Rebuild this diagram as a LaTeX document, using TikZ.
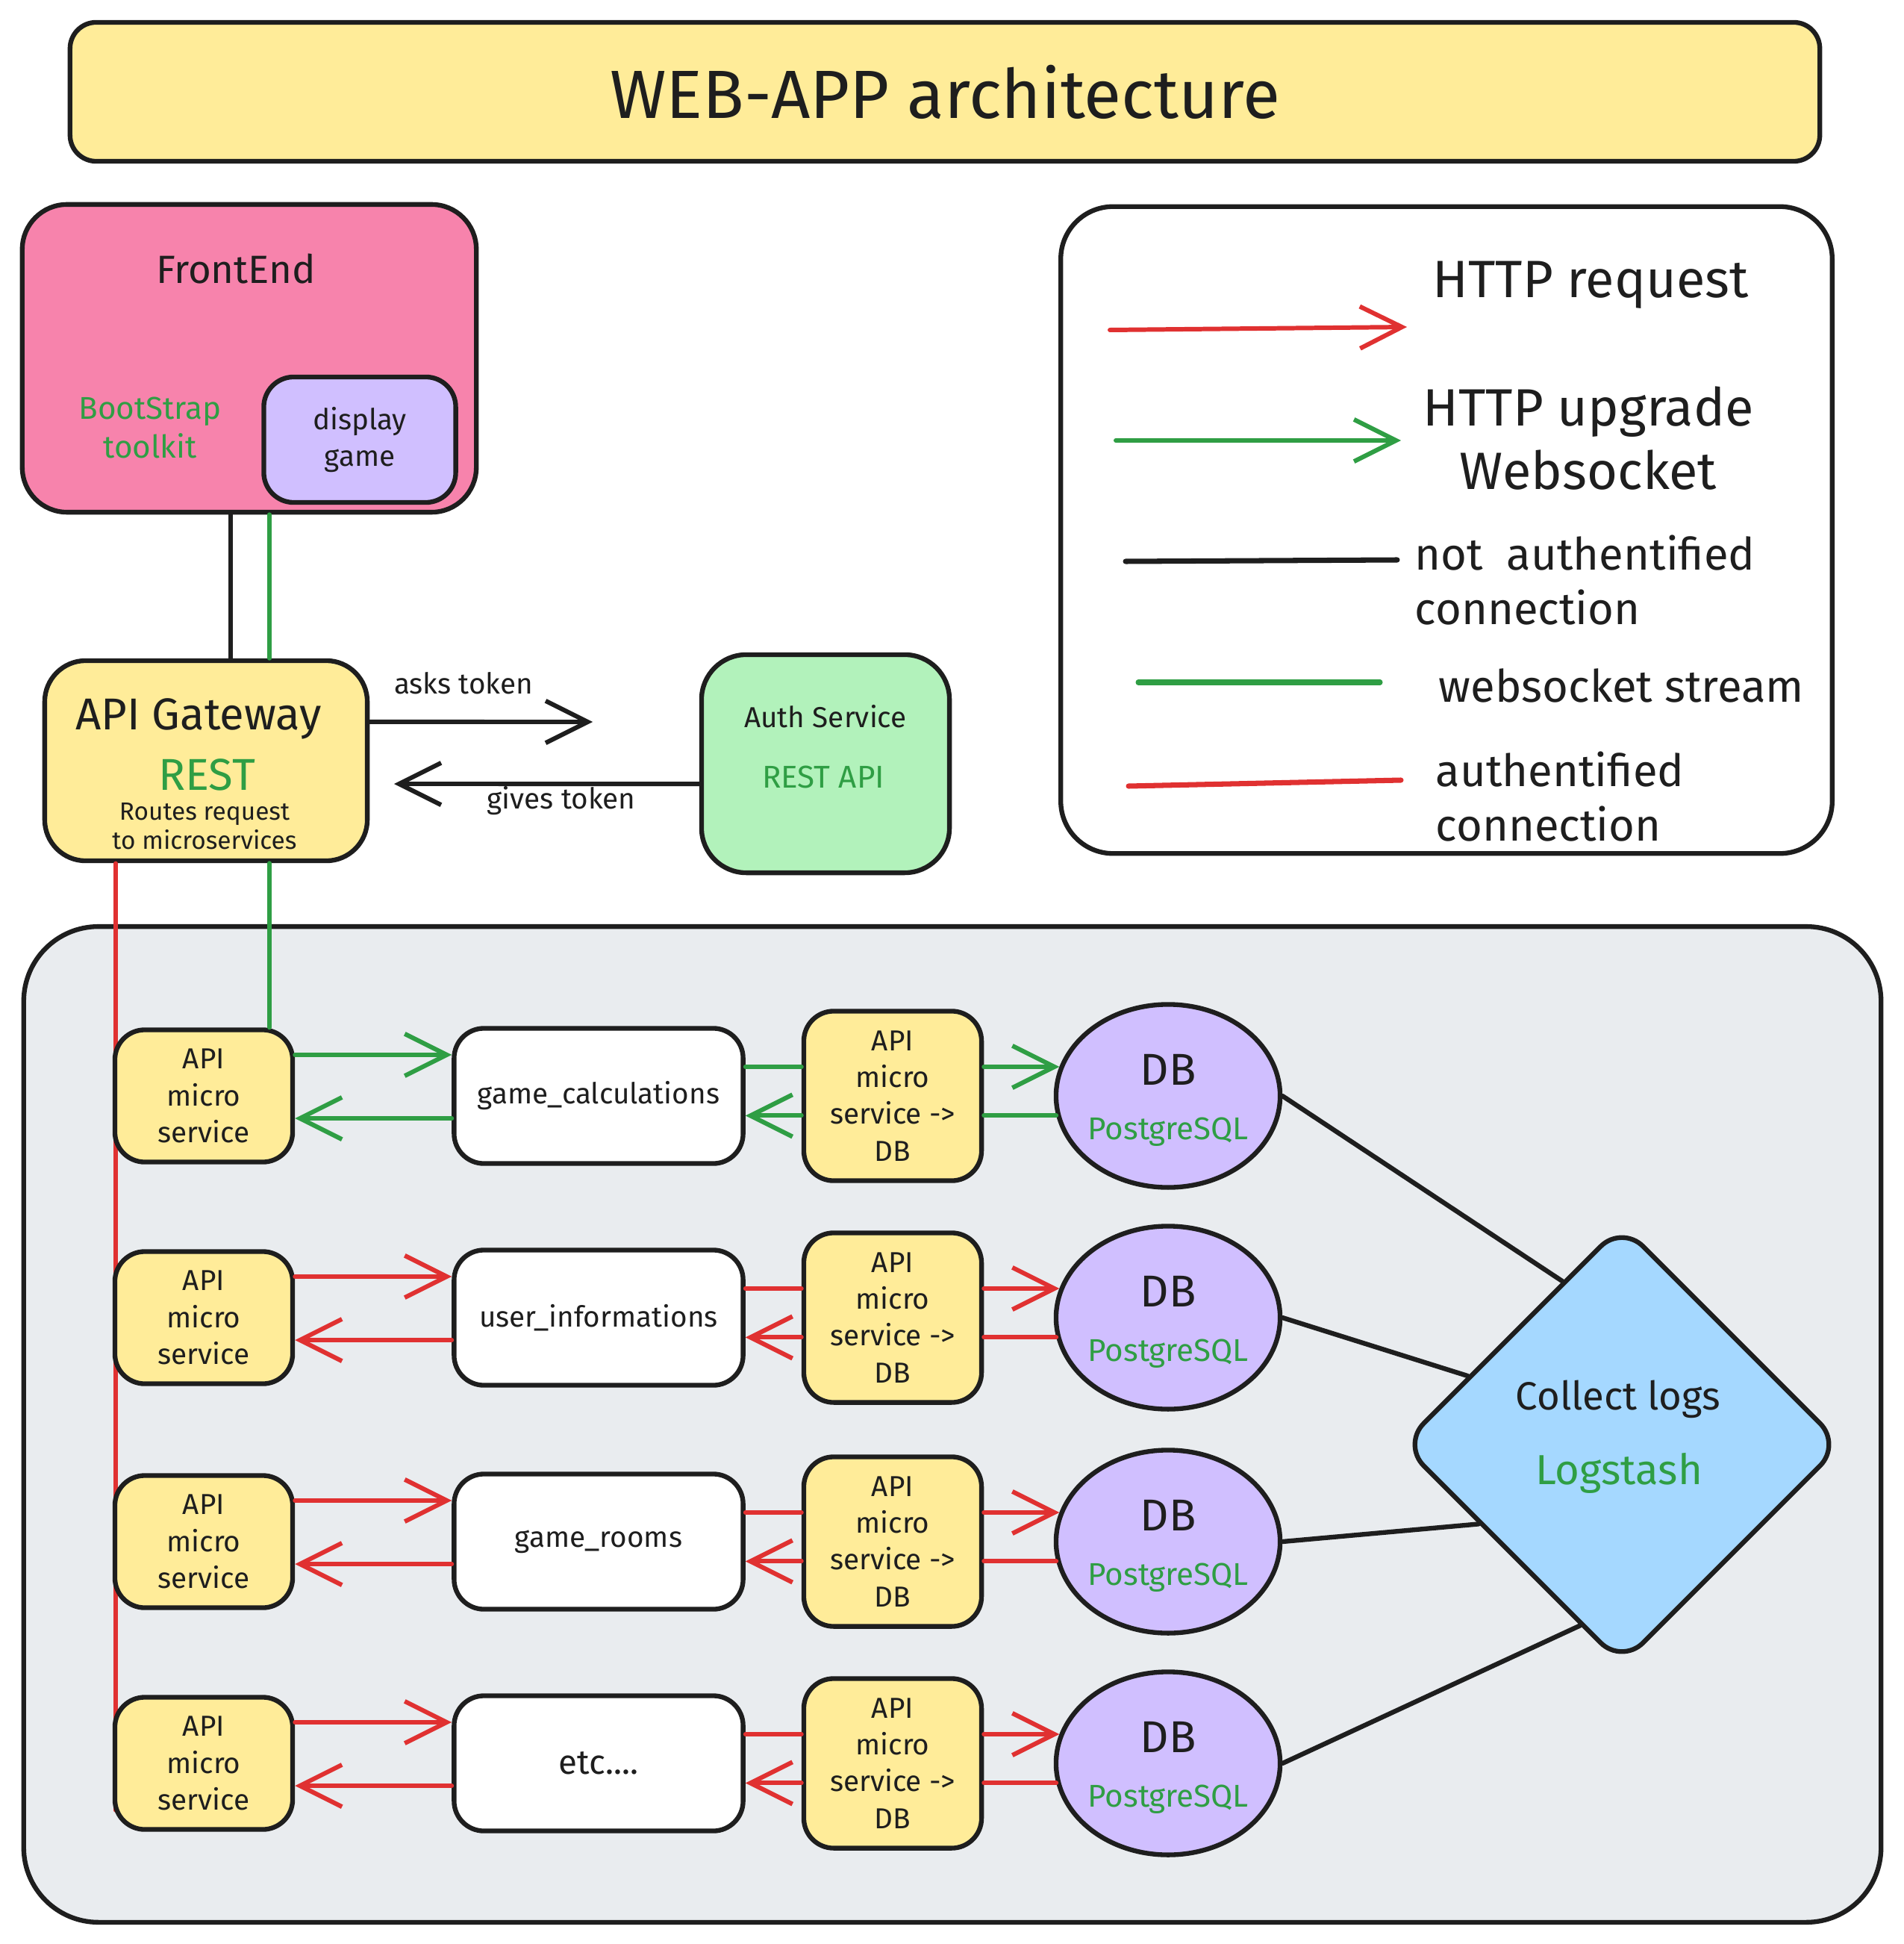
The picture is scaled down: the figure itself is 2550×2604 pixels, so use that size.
\documentclass[tikz,border=0pt]{standalone}
\usepackage{fontspec}
\setmainfont{Fira Sans}
\usetikzlibrary{arrows.meta,shapes.geometric}

\definecolor{exred}{HTML}{E03131}
\definecolor{exgreen}{HTML}{2F9E44}
\definecolor{exblack}{HTML}{1E1E1E}
\definecolor{exyellow}{HTML}{FFEC99}
\definecolor{expink}{HTML}{F783AC}
\definecolor{exviolet}{HTML}{D0BFFF}
\definecolor{exmint}{HTML}{B2F2BB}
\definecolor{exblue}{HTML}{A5D8FF}
\definecolor{exgrey}{HTML}{E9ECEF}

\newcommand{\fsz}[2]{\fontsize{#1}{#2}\selectfont}
\newcommand{\etclabel}{{\fsz{13}{15}etc....}}

\tikzset{
  box/.style={draw=exblack, line width=1.8pt, rounded corners=0.4cm, inner sep=0pt, align=center, text=exblack},
  txt/.style={inner sep=0pt, text=exblack, align=center},
  greentxt/.style={inner sep=0pt, text=exgreen, align=center},
  plain/.style={draw=exblack, line width=1.7pt, line cap=round},
  wsline/.style={draw=exgreen, line width=1.7pt, line cap=round},
  reqline/.style={draw=exred, line width=1.7pt, line cap=round},
  head/.style={-{Straight Barb[length=16pt,width=16pt]}}
}

\begin{document}
\begin{tikzpicture}[x=0.01cm, y=-0.01cm]
          \useasboundingbox (0,0) rectangle (2550,2604);
          \fill[white] (0,0) rectangle (2550,2604);

          % Titel
          \node[box, fill=exyellow, minimum width=23.43cm, minimum height=1.86cm, rounded corners=0.35cm, font=\fsz{26}{30}] (title) at (1266,123) {WEB-APP architecture};

          % Frontend
          \node[box, fill=expink, minimum width=6.08cm, minimum height=4.12cm, rounded corners=0.6cm] (fe) at (334,480) {};
          \node[txt, font=\fsz{15}{18}] (fename) at (316,360) {FrontEnd};
          \node[greentxt, font=\fsz{12}{15}] (bootstrap) at (201,573) {BootStrap\\toolkit};
          \node[box, fill=exviolet, minimum width=2.57cm, minimum height=1.68cm, font=\fsz{11}{14}] (display) at (482,589) {display\\game};

          % Gateway
          \node[box, fill=exyellow, minimum width=4.32cm, minimum height=2.68cm, rounded corners=0.55cm] (gateway) at (276,1019) {};
          \node[txt, font=\fsz{17}{20}] (gwname) at (266,963) {API Gateway};
          \node[greentxt, font=\fsz{17}{20}] (gwrest) at (277,1038) {REST};
          \node[txt, font=\fsz{9.5}{11}] (gwroute) at (274,1107) {Routes request\\to microservices};

          % Auth
          \node[box, fill=exmint, minimum width=3.32cm, minimum height=2.92cm, rounded corners=0.6cm] (auth) at (1106,1023) {};
          \node[txt, font=\fsz{11}{14}] (authname) at (1106,960) {Auth Service};
          \node[greentxt, font=\fsz{12}{14}] (authrest) at (1103,1041) {REST API};

          % Token
          \coordinate (askend) at (794,967);
          \coordinate (givesend) at (528,1050);
          \draw[plain, head] ([yshift=0.52cm]gateway.east) -- (askend);
          \draw[plain, head] ([yshift=-0.27cm]auth.west) -- (givesend);
          \node[txt, font=\fsz{11}{14}] (asks) at (621,915) {asks token};
          \node[txt, font=\fsz{11}{14}] (gives) at (752,1073) {gives token};

          % Frontend -> Gateway
          \coordinate (plainx) at (309,0);
          \coordinate (wsx) at (361,0);
          \draw[plain] (fe.south -| plainx) -- (gateway.north -| plainx);
          \draw[wsline] (fe.south -| wsx) -- (gateway.north -| wsx);

          % Legende
          \node[box, fill=white, minimum width=10.33cm, minimum height=8.66cm, rounded corners=0.7cm] (legend) at (1938,710) {};
          \coordinate (lgreqa) at (1487,442);
          \coordinate (lgreqb) at (1885,438);
          \draw[reqline, head] (lgreqa) -- (lgreqb);
          \node[txt, font=\fsz{20}{24}] (lgreq) at (2131,382) {HTTP request};
          \coordinate (lgupga) at (1495,590);
          \coordinate (lgupgb) at (1877,590);
          \draw[wsline, head] (lgupga) -- (lgupgb);
          \node[txt, font=\fsz{20}{24}] (lgupg) at (2128,587) {HTTP upgrade\\Websocket};
          \coordinate (lgplaina) at (1508,752);
          \coordinate (lgplainb) at (1872,750);
          \draw[plain, line width=2pt] (lgplaina) -- (lgplainb);
          \node[txt, anchor=west, align=left, font=\fsz{17}{21}] (lgplain) at (1895,777) {not\ \ authentified\\connection};
          \coordinate (lgwsa) at (1525,914);
          \coordinate (lgwsb) at (1849,914);
          \draw[wsline, line width=2pt] (lgwsa) -- (lgwsb);
          \node[txt, anchor=west, font=\fsz{17}{21}] (lgws) at (1927,918) {websocket stream};
          \coordinate (lgautha) at (1512,1053);
          \coordinate (lgauthb) at (1877,1045);
          \draw[reqline, line width=2pt] (lgautha) -- (lgauthb);
          \node[txt, anchor=west, align=left, font=\fsz{17}{21}] (lgauth) at (1923,1067) {authentified\\connection};

          % Microservices
          \node[box, fill=exgrey, minimum width=24.87cm, minimum height=13.33cm, rounded corners=1cm] (cluster) at (1276,1908) {};
          \coordinate (authend) at (155,2425);
          \draw[reqline, line width=1.5pt] (gateway.south -| authend) -- (authend);

          \node[shape=diamond, draw=exblack, line width=1.8pt, fill=exblue, rounded corners=0.4cm, minimum width=5.9cm, minimum height=5.9cm, inner sep=0pt] (logs) at (2173,1935) {};
          \node[txt, font=\fsz{15}{18}] (logsname) at (2168,1874) {Collect logs};
          \node[greentxt, font=\fsz{16}{19}] (logstash) at (2169,1973) {Logstash};

          \foreach \r/\y/\lbl/\kind/\ang in {1/1468/game\_calculations/wsline/110, 2/1765/user\_informations/reqline/156, 3/2065/game\_rooms/reqline/209, 4/2362/\etclabel/reqline/257}{
            \node[box, fill=exyellow, minimum width=2.38cm, minimum height=1.77cm, font=\fsz{11}{14}] (ms\r) at (273,\y) {API\\micro\\service};
            \node[box, fill=white, minimum width=3.87cm, minimum height=1.81cm, font=\fsz{11}{14}] (svc\r) at (802,\y) {\lbl};
            \node[box, fill=exyellow, minimum width=2.38cm, minimum height=2.27cm, font=\fsz{11}{14}] (msdb\r) at (1196,\y) {API\\micro\\service ->\\DB};
            \node[ellipse, draw=exblack, line width=1.8pt, fill=exviolet, minimum width=3cm, minimum height=2.45cm, inner sep=0pt] (db\r) at (1565,\y) {};
            \node[txt, font=\fsz{17}{20}] (dbname\r) at ([yshift=0.35cm]db\r.center) {DB};
            \node[greentxt, font=\fsz{12}{14}] (pg\r) at ([yshift=-0.48cm]db\r.center) {PostgreSQL};
            % Pfeile
            \draw[\kind, head] ([yshift=0.55cm]ms\r.east) -- ([yshift=0.55cm]svc\r.west);
            \draw[\kind, head] ([yshift=-0.30cm]svc\r.west) -- ([yshift=-0.30cm]ms\r.east);
            \draw[\kind] (svc\r.east |- db\r.165) -- (msdb\r.west |- db\r.165);
            \draw[\kind, head] (msdb\r.east |- db\r.165) -- (db\r.165);
            \draw[\kind] (db\r.190) -- (msdb\r.east |- db\r.190);
            \draw[\kind, head] (msdb\r.west |- db\r.190) -- (svc\r.east |- db\r.190);
            \draw[plain, line width=1.8pt] (db\r.east) -- (logs.\ang);
          }

          \draw[wsline] (gateway.south -| wsx) -- (ms1.north -| wsx);
        \end{tikzpicture}
\end{document}
